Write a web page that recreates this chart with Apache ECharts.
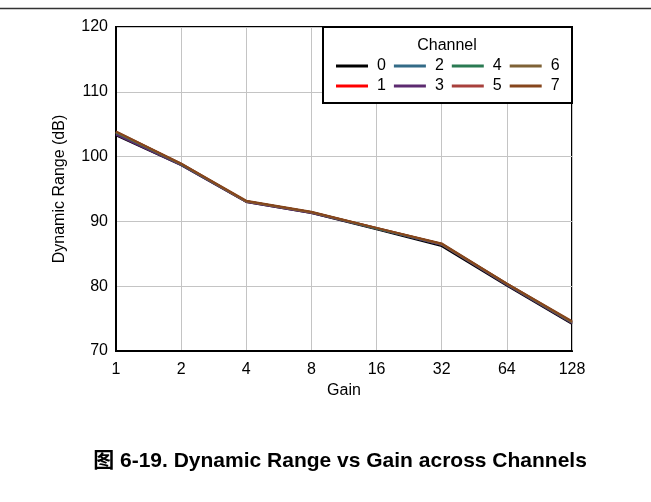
<!DOCTYPE html>
<html><head><meta charset="utf-8">
<script src="https://cdn.jsdelivr.net/npm/echarts@6/dist/echarts.min.js"></script>
<style>html,body{margin:0;padding:0;background:#fff}#c{width:651px;height:502px}</style>
</head><body><div id="c"></div>
<script>
var gains = ['1','2','4','8','16','32','64','128'];
var yTicks = [70, 80, 90, 100, 110, 120];
var channelNames = ['0','1','2','3','4','5','6','7'];
var channelColors = ['#000000','#ff0000','#336b87','#5c2a70','#2a7a52','#a8403c','#7f6236','#86461c'];
var ch0 = [103.3, 98.7, 93.0, 91.3, 88.8, 86.2, 80.1, 74.2];
var ch1 = [103.7, 98.8, 93.1, 91.4, 88.9, 86.5, 80.3, 74.4];
var ch2 = [103.6, 98.8, 93.1, 91.4, 88.9, 86.4, 80.3, 74.4];
var ch3 = [103.4, 98.7, 93.0, 91.3, 88.9, 86.4, 80.2, 74.3];
var ch4 = [103.7, 98.8, 93.1, 91.4, 88.9, 86.5, 80.3, 74.4];
var ch5 = [103.8, 98.9, 93.1, 91.4, 89.0, 86.5, 80.4, 74.5];
var ch6 = [103.8, 98.9, 93.1, 91.4, 89.0, 86.5, 80.4, 74.5];
var ch7 = [103.9, 98.9, 93.2, 91.5, 89.0, 86.6, 80.4, 74.6];
var channelData = [ch0, ch1, ch2, ch3, ch4, ch5, ch6, ch7];

var FONT = 'Liberation Sans, Arial, Noto Sans CJK SC, sans-serif';
var chart = echarts.init(document.getElementById('c'), null, {renderer: 'canvas'});

var series = channelData.map(function (d, i) {
  return {
    name: channelNames[i], type: 'line', data: d, symbol: 'none', showSymbol: false,
    lineStyle: {width: 2, color: channelColors[i]}, itemStyle: {color: channelColors[i]},
    silent: true, animation: false, z: 2
  };
});

var legendCommon = {
  orient: 'horizontal', icon: 'rect', itemWidth: 32, itemHeight: 3, itemGap: 8,
  textStyle: {fontFamily: FONT, fontSize: 16, color: '#000', padding: [0, 0, 0, 4]},
  selectedMode: false, z: 10, padding: 0
};

chart.setOption({
  animation: false,
  backgroundColor: '#fff',
  grid: {left: 116, right: 79, top: 27, bottom: 151, show: true, borderColor: '#000', borderWidth: 2, backgroundColor: 'transparent'},
  xAxis: {
    type: 'category', data: gains, boundaryGap: false,
    name: 'Gain', nameLocation: 'middle', nameGap: 31,
    nameTextStyle: {fontFamily: FONT, fontSize: 16, color: '#000'},
    axisLine: {show: true, lineStyle: {color: '#000', width: 2}},
    axisTick: {show: false},
    axisLabel: {fontFamily: FONT, fontSize: 16, color: '#000', margin: 11, interval: 0},
    splitLine: {show: true, lineStyle: {color: '#c4c4c4', width: 1}}
  },
  yAxis: {
    type: 'value', min: yTicks[0], max: yTicks[yTicks.length - 1], interval: 10,
    name: 'Dynamic Range (dB)', nameLocation: 'middle', nameGap: 48,
    nameTextStyle: {fontFamily: FONT, fontSize: 16, color: '#000'},
    axisLine: {show: true, lineStyle: {color: '#000', width: 2}},
    axisTick: {show: false},
    axisLabel: {fontFamily: FONT, fontSize: 16, color: '#000', margin: 8},
    splitLine: {show: true, lineStyle: {color: '#c4c4c4', width: 1}}
  },
  legend: [
    Object.assign({}, legendCommon, {data: ['0','2','4','6'], left: 336, top: 58}),
    Object.assign({}, legendCommon, {data: ['1','3','5','7'], left: 336, top: 78})
  ],
  graphic: [
    {type: 'line', shape: {x1: 0, y1: 8.5, x2: 651, y2: 8.5}, style: {stroke: '#333', lineWidth: 1.5}, z: 5},
    {type: 'rect', shape: {x: 323, y: 27, width: 249, height: 76}, style: {fill: '#fff', stroke: '#000', lineWidth: 2}, z: 5},
    {type: 'text', x: 447, y: 46, style: {text: 'Channel', fontFamily: FONT, fontSize: 16, fill: '#000', textAlign: 'center', textVerticalAlign: 'middle'}, z: 6},
    {type: 'text', x: 340, y: 461, style: {text: '图 6-19. Dynamic Range vs Gain across Channels', fontFamily: FONT, fontSize: 21, fontWeight: 'bold', fill: '#000', textAlign: 'center', textVerticalAlign: 'middle'}, z: 6}
  ],
  series: series
});
</script></body></html>
